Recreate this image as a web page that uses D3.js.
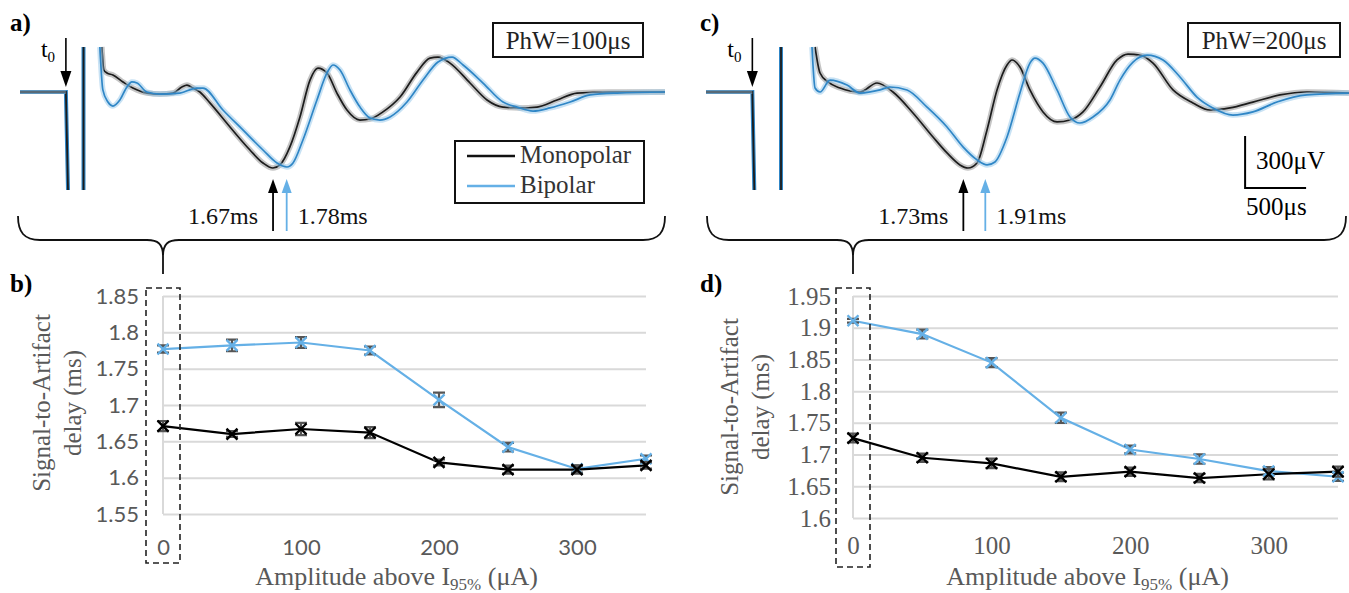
<!DOCTYPE html>
<html lang="en">
<head>
<meta charset="UTF-8">
<title>Signal-to-Artifact delay</title>
<script src="https://cdn.jsdelivr.net/npm/d3@7"></script>
<style>
  body { margin: 0; background: #fff; }
  svg { display: block; }
  .serif { font-family: "Liberation Serif", "Times New Roman", serif; }
  .grid line { stroke: #d9d9d9; stroke-width: 2; }
  .grid .domain { display: none; }
</style>
</head>
<body>
<div id="chart"></div>
<script>
/*------------------------- data -------------------------*/
// amplitude above I95% (uA)
const amplitudes = [0, 50, 100, 150, 200, 250, 300, 350];
const xTickValues = [0, 100, 200, 300];

// b) PhW = 100us, delay (ms)
const monoDelayB = [1.671, 1.660, 1.667, 1.662, 1.621, 1.611, 1.611, 1.617];
const monoErrB   = [0.007, 0.004, 0.0085, 0.0075, 0.004, 0.0055, 0.0055, 0.0045];
const biDelayB   = [1.777, 1.782, 1.786, 1.775, 1.707, 1.642, 1.612, 1.626];
const biErrB     = [0.005, 0.008, 0.0075, 0.0055, 0.01, 0.006, 0.005, 0.0045];
const yTicksB    = [1.55, 1.6, 1.65, 1.7, 1.75, 1.8, 1.85];

// d) PhW = 200us, delay (ms)
const monoDelayD = [1.726, 1.695, 1.686, 1.665, 1.673, 1.663, 1.669, 1.673];
const monoErrD   = [0.007, 0.0065, 0.0075, 0.007, 0.0065, 0.0065, 0.008, 0.008];
const biDelayD   = [1.911, 1.890, 1.845, 1.758, 1.708, 1.693, 1.674, 1.665];
const biErrD     = [0.003, 0.007, 0.007, 0.008, 0.006, 0.0075, 0.0063, 0.0066];
const yTicksD    = [1.6, 1.65, 1.7, 1.75, 1.8, 1.85, 1.9, 1.95];

// a) / c) averaged recordings, [time after t0 (ms), amplitude (uV)]
const preStimA = [[-0.37, 0], [0, 0], [0.017, -566]];
const spikeA   = [[0.142, -566], [0.142, 260]];
const monoWaveA = [[0.290,260],[0.306,127],[0.331,110],[0.379,98],[0.460,58],[0.540,23],[0.653,-6],[0.758,-12],
  [0.863,-6],[0.935,29],[0.976,40],[1.024,23],[1.08,0],[1.161,-63],[1.323,-202],[1.484,-335],[1.589,-410],
  [1.669,-439],[1.726,-421],[1.806,-317],[1.887,-144],[1.968,69],[2.032,138],[2.105,110],[2.185,-6],[2.266,-104],
  [2.371,-162],[2.452,-156],[2.556,-115],[2.694,-29],[2.831,115],[2.935,196],[3.0,202],[3.097,167],[3.258,52],
  [3.395,-46],[3.524,-87],[3.661,-92],[3.798,-87],[3.960,-46],[4.121,-6],[4.387,0],[4.83,0]];
const biWaveA = [[0.274,260],[0.298,12],[0.339,-58],[0.379,-81],[0.435,-46],[0.492,29],[0.532,58],[0.573,52],
  [0.653,0],[0.758,-12],[0.919,-6],[1.056,23],[1.105,23],[1.266,-104],[1.427,-219],[1.589,-335],[1.702,-410],
  [1.782,-433],[1.831,-410],[1.911,-277],[2.024,-46],[2.105,110],[2.153,156],[2.210,127],[2.290,12],[2.371,-87],
  [2.452,-150],[2.532,-162],[2.613,-144],[2.750,-58],[2.879,69],[3.0,173],[3.113,202],[3.202,156],[3.363,52],
  [3.524,-58],[3.637,-87],[3.766,-110],[3.903,-92],[4.065,-58],[4.226,-17],[4.444,-6],[4.83,0]];

const preStimC = [[-0.38, 0], [0, 0], [0.016, -566]];
const spikeC   = [[0.235, -566], [0.235, 260]];
const monoWaveC = [[0.514,260],[0.555,110],[0.620,58],[0.719,23],[0.883,0],[1.022,52],[1.153,0],[1.317,-121],
  [1.481,-260],[1.596,-352],[1.702,-421],[1.768,-439],[1.842,-410],[1.924,-219],[2.006,12],[2.088,156],[2.129,185],
  [2.194,144],[2.276,12],[2.383,-115],[2.498,-173],[2.604,-162],[2.711,-115],[2.850,29],[2.990,185],[3.080,219],
  [3.178,213],[3.285,167],[3.449,12],[3.612,-63],[3.752,-104],[3.916,-92],[4.104,-58],[4.326,-17],[4.547,0],[4.891,-6]];
const biWaveC = [[0.489,260],[0.514,23],[0.555,0],[0.637,69],[0.776,40],[0.883,-6],[1.047,12],[1.128,29],[1.268,12],
  [1.432,-87],[1.596,-202],[1.727,-317],[1.842,-392],[1.924,-421],[1.989,-404],[2.088,-260],[2.194,-6],[2.276,167],
  [2.317,196],[2.383,167],[2.498,12],[2.604,-144],[2.686,-179],[2.793,-144],[2.932,-46],[3.014,69],[3.121,173],
  [3.236,213],[3.367,185],[3.506,87],[3.645,-29],[3.776,-92],[3.940,-133],[4.104,-115],[4.301,-58],[4.547,-17],[4.891,-6]];

/*------------------------- setup -------------------------*/
const W = 1349, H = 593;
const GREY_TXT = "#595959";
const BLACK_CORE = "#1c1c1c", BLACK_HALO = "#8c8c8c";
const BLUE_CORE = "#2f86c6", BLUE_HALO = "#92c6ea", BLUE_LIGHT = "#65b0e6";

const svg = d3.select("#chart").append("svg")
  .attr("width", W).attr("height", H)
  .attr("viewBox", `0 0 ${W} ${H}`);

/*------------------------- waveforms (a, c) -------------------------*/
const yWave = d3.scaleLinear().domain([-566, 260]).range([190, 47]);

function drawWaves(opt) {
  const x = d3.scaleLinear().domain(opt.tDomain).range(opt.xRange);
  const g = svg.append("g");
  const lin = d3.line().x(d => x(d[0])).y(d => yWave(d[1]));
  const smooth = d3.line().x(d => x(d[0])).y(d => yWave(d[1])).curve(d3.curveMonotoneX);

  // artifact (both configurations overlap)
  [opt.pre, opt.spike].forEach(seg => {
    g.append("path").attr("d", lin(seg)).attr("fill", "none").attr("stroke", BLUE_CORE).attr("stroke-width", 4);
    g.append("path").attr("d", lin(seg)).attr("fill", "none").attr("stroke", BLACK_CORE).attr("stroke-width", 1.8);
  });
  // pre-stim baseline noise band
  g.append("path").attr("d", lin(opt.pre.slice(0, 2))).attr("fill", "none")
    .attr("stroke", "#7f9fb5").attr("stroke-width", 4).attr("opacity", 0.6);

  // recorded responses: halo = superimposed sweeps, core = mean
  [[opt.mono, BLACK_HALO, BLACK_CORE], [opt.bi, BLUE_HALO, BLUE_CORE]].forEach(([data, halo, core]) => {
    g.append("path").attr("d", smooth(data)).attr("fill", "none")
      .attr("stroke", halo).attr("stroke-width", 5.5).attr("opacity", 0.5);
    g.append("path").attr("d", smooth(data)).attr("fill", "none")
      .attr("stroke", core).attr("stroke-width", 1.7);
  });

  // t0 arrow
  const x0 = x(0);
  g.append("line").attr("x1", x0).attr("x2", x0).attr("y1", 38).attr("y2", 74)
    .attr("stroke", "#000").attr("stroke-width", 1.6);
  g.append("path").attr("d", `M${x0},87 L${x0 - 5.5},71 L${x0 + 5.5},71 Z`).attr("fill", "#000");
  const t0 = g.append("text").attr("class", "serif").attr("font-size", 24)
    .attr("x", x0 - 25).attr("y", 57).text("t");
  t0.append("tspan").attr("font-size", 15).attr("dy", 5).text("0");

  // latency arrows
  opt.latency.forEach(([t, col, side]) => {
    const xa = x(t);
    g.append("line").attr("x1", xa).attr("x2", xa).attr("y1", 190).attr("y2", 231)
      .attr("stroke", col).attr("stroke-width", 1.8);
    g.append("path").attr("d", `M${xa},179 L${xa - 5},193 L${xa + 5},193 Z`).attr("fill", col);
    g.append("text").attr("class", "serif").attr("font-size", 24).attr("fill", "#111")
      .attr("x", side < 0 ? xa - 15 : xa + 11).attr("y", 224)
      .attr("text-anchor", side < 0 ? "end" : "start")
      .text(t.toFixed(2) + "ms");
  });

  // PhW box
  g.append("rect").attr("x", opt.box[0]).attr("y", 23).attr("width", opt.box[1] - opt.box[0]).attr("height", 34)
    .attr("fill", "#fff").attr("stroke", "#111").attr("stroke-width", 2);
  g.append("text").attr("class", "serif").attr("font-size", 25).attr("fill", "#222")
    .attr("x", (opt.box[0] + opt.box[1]) / 2).attr("y", 49).attr("text-anchor", "middle").text(opt.phw);

  // panel letter
  g.append("text").attr("class", "serif").attr("font-weight", "bold").attr("font-size", 25)
    .attr("x", opt.letterX).attr("y", 31).text(opt.letter);
  return x;
}

const xA = drawWaves({
  tDomain: [-0.37, 4.83], xRange: [20, 665], pre: preStimA, spike: spikeA,
  mono: monoWaveA, bi: biWaveA, box: [493, 643], phw: "PhW=100μs", letter: "a)", letterX: 10,
  latency: [[1.67, "#000", -1], [1.78, BLUE_LIGHT, 1]]
});
const xC = drawWaves({
  tDomain: [-0.38, 4.9], xRange: [706, 1350], pre: preStimC, spike: spikeC,
  mono: monoWaveC, bi: biWaveC, box: [1188, 1340], phw: "PhW=200μs", letter: "c)", letterX: 700,
  latency: [[1.73, "#000", -1], [1.91, BLUE_LIGHT, 1]]
});

// legend (panel a)
const leg = svg.append("g");
leg.append("rect").attr("x", 455).attr("y", 141).attr("width", 189).attr("height", 62)
  .attr("fill", "#fff").attr("stroke", "#111").attr("stroke-width", 2);
[["Monopolar", "#111", 163], ["Bipolar", BLUE_LIGHT, 193]].forEach(([name, col, yb]) => {
  leg.append("line").attr("x1", 467).attr("x2", 515).attr("y1", yb - 7).attr("y2", yb - 7)
    .attr("stroke", col).attr("stroke-width", 2.5);
  leg.append("text").attr("class", "serif").attr("font-size", 25).attr("fill", "#333")
    .attr("x", 520).attr("y", yb).text(name);
});

// scale bar (panel c)
const sbX = xC(4.04), sbY = yWave(-566) - 2;
const sbW = xC(0.5) - xC(0), sbH = yWave(0) - yWave(300);
svg.append("path").attr("d", `M${sbX},${sbY - sbH} L${sbX},${sbY} L${sbX + sbW},${sbY}`)
  .attr("fill", "none").attr("stroke", "#000").attr("stroke-width", 2);
svg.append("text").attr("class", "serif").attr("font-size", 25).attr("x", sbX + 11).attr("y", 169).text("300μV");
svg.append("text").attr("class", "serif").attr("font-size", 25).attr("x", sbX + 1).attr("y", 215).text("500μs");

/*------------------------- delay charts (b, d) -------------------------*/
function drawChart(opt) {
  const x = d3.scaleLinear().domain([0, 350]).range([opt.left, opt.right]);
  const y = d3.scaleLinear().domain(d3.extent(opt.yTicks)).range([opt.bottom, opt.top]);
  const g = svg.append("g");

  // gridlines + y tick labels
  const ya = g.append("g").attr("class", "grid")
    .attr("transform", `translate(${opt.left},0)`)
    .call(d3.axisLeft(y).tickValues(opt.yTicks).tickSize(-(opt.right - opt.left))
      .tickPadding(opt.padY).tickFormat(d => String(d)));
  ya.selectAll("text").attr("fill", GREY_TXT).attr("font-size", opt.tickSize)
    .attr("font-family", opt.tickFont);
  g.append("line").attr("x1", opt.left).attr("x2", opt.left).attr("y1", opt.top).attr("y2", opt.bottom)
    .attr("stroke", "#d9d9d9").attr("stroke-width", 2);

  // x tick labels
  const xa = g.append("g").attr("transform", `translate(0,${opt.bottom})`)
    .call(d3.axisBottom(x).tickValues(xTickValues).tickSize(0).tickPadding(opt.padX));
  xa.select(".domain").remove();
  xa.selectAll("text").attr("fill", GREY_TXT).attr("font-size", opt.tickSize)
    .attr("font-family", opt.tickFont);

  // series
  const line = d3.line().x((d, i) => x(amplitudes[i])).y(d => y(d));
  const series = [[opt.bi, opt.biErr, BLUE_LIGHT], [opt.mono, opt.monoErr, "#000"]];
  series.forEach(([vals, errs, col]) => {
    g.append("path").attr("d", line(vals)).attr("fill", "none").attr("stroke", col).attr("stroke-width", 2.2);
  });
  series.forEach(([vals, errs, col]) => {
    vals.forEach((v, i) => {
      const cx = x(amplitudes[i]), y1 = y(v + errs[i]), y2 = y(v - errs[i]);
      g.append("path").attr("d", `M${cx},${y1} L${cx},${y2} M${cx - 6},${y1} L${cx + 6},${y1} M${cx - 6},${y2} L${cx + 6},${y2}`)
        .attr("stroke", "#555").attr("stroke-width", 2.2).attr("fill", "none");
    });
    g.selectAll(null).data(vals).enter().append("path")
      .attr("d", d3.symbol(d3.symbolX, 80))
      .attr("transform", (d, i) => `translate(${x(amplitudes[i])},${y(d)})`)
      .attr("fill", "none").attr("stroke", col).attr("stroke-width", 2.4);
  });

  // dashed box around the 0 uA condition
  const bx = x(0);
  g.append("rect").attr("x", bx - 17).attr("y", opt.top - 8).attr("width", 34).attr("height", opt.boxBottom - opt.top + 8)
    .attr("fill", "none").attr("stroke", "#222").attr("stroke-width", 1.6).attr("stroke-dasharray", "6,4");

  // axis titles
  const yt = g.append("text").attr("class", "serif").attr("font-size", 25).attr("fill", GREY_TXT)
    .attr("text-anchor", "middle")
    .attr("transform", `translate(${opt.titleX},${opt.titleY}) rotate(-90)`);
  yt.append("tspan").attr("x", 0).attr("y", 0).text("Signal-to-Artifact");
  yt.append("tspan").attr("x", 0).attr("y", 31).text("delay (ms)");

  const xt = g.append("text").attr("class", "serif").attr("font-size", 26).attr("fill", GREY_TXT)
    .attr("text-anchor", "middle").attr("x", (opt.left + opt.right) / 2 - 8).attr("y", 585);
  xt.append("tspan").text("Amplitude above I");
  xt.append("tspan").attr("font-size", 17).attr("dy", 5).text("95%");
  xt.append("tspan").attr("dy", -5).text(" (μA)");

  g.append("text").attr("class", "serif").attr("font-weight", "bold").attr("font-size", 25)
    .attr("x", opt.letterX).attr("y", 292).text(opt.letter);
  return x;
}

const xB = drawChart({
  left: 163, right: 646, top: 296, bottom: 514, yTicks: yTicksB, padY: 24, padX: 25,
  tickSize: 22, tickFont: "Lato, 'Open Sans', sans-serif",
  mono: monoDelayB, monoErr: monoErrB, bi: biDelayB, biErr: biErrB,
  boxBottom: 563, titleX: 50, titleY: 403, letter: "b)", letterX: 10
});
const xD = drawChart({
  left: 853, right: 1338, top: 296, bottom: 518, yTicks: yTicksD, padY: 22, padX: 18,
  tickSize: 25, tickFont: "'Liberation Serif', 'Times New Roman', serif",
  mono: monoDelayD, monoErr: monoErrD, bi: biDelayD, biErr: biErrD,
  boxBottom: 567, titleX: 738, titleY: 407, letter: "d)", letterX: 700
});

/*------------------------- braces linking a->b, c->d -------------------------*/
function brace(xl, xr, xm) {
  const yT = 216, yM = 240, yTip = 274;
  const d = `M${xl},${yT} C${xl},${yM - 8} ${xl + 6},${yM} ${xl + 22},${yM} L${xm - 16},${yM} ` +
    `C${xm - 5},${yM} ${xm},${yM + 4} ${xm},${yM + 16} L${xm},${yTip} M${xm},${yM + 16} ` +
    `C${xm},${yM + 4} ${xm + 5},${yM} ${xm + 16},${yM} L${xr - 22},${yM} C${xr - 6},${yM} ${xr},${yM - 8} ${xr},${yT}`;
  svg.append("path").attr("d", d).attr("fill", "none").attr("stroke", "#111").attr("stroke-width", 1.8);
}
brace(18, 665, xB(0));
brace(707, 1346, xD(0));
</script>
</body>
</html>
